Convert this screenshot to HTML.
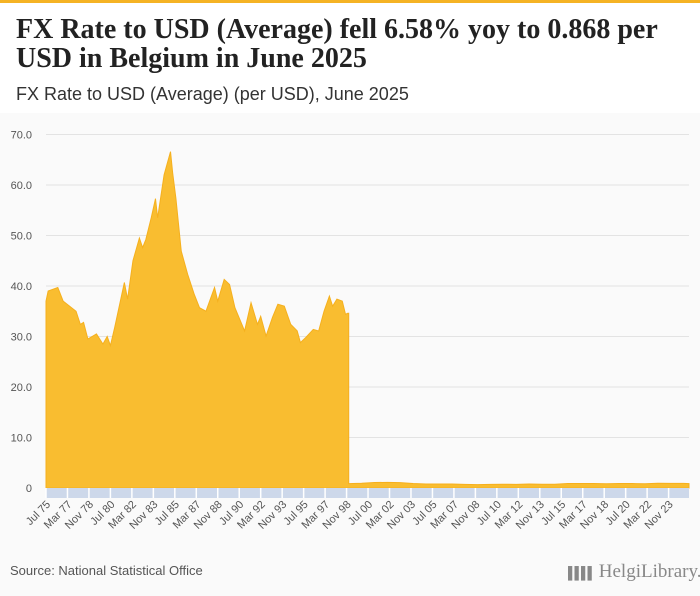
<!DOCTYPE html>
<html><head><meta charset="utf-8"><style>
body{margin:0;width:700px;height:596px;overflow:hidden;font-family:"Liberation Sans",sans-serif;background:#fafafa}
#hdr{position:absolute;left:0;top:0;width:700px;height:113px;background:#fff;border-top:3px solid #f5b324;box-sizing:border-box}
h1{position:absolute;left:16px;top:12px;margin:0;font-family:"Liberation Serif",serif;font-size:28px;line-height:29px;font-weight:bold;color:#222;white-space:nowrap}
#sub{position:absolute;left:16px;top:81px;font-size:18px;color:#333}
#src{position:absolute;left:10px;top:563px;font-size:13px;color:#555}
#logo{position:absolute;left:568px;top:561px;font-family:"Liberation Serif",serif;font-size:19px;color:#888;white-space:nowrap}
</style></head><body>
<div id="hdr">
<h1>FX Rate to USD (Average) fell 6.58% yoy to 0.868 per<br>USD in Belgium in June 2025</h1>
<div id="sub">FX Rate to USD (Average) (per USD), June 2025</div>
</div>
<svg id="chart" width="700" height="596" style="position:absolute;left:0;top:0"></svg>
<div id="src">Source: National Statistical Office</div>
<div id="logo"><span style="font-size:12px;letter-spacing:-2px">▌▌▌▌</span> HelgiLibrary.</div>
<script>
const months=[0,2,11,16,28,32,35,39,47,53,57,60,64,73,76,81,87,90,93,98,102,104,110,116,118,121,126,132,138,143,149,157,160,166,171,176,185,191,197,200,205,211,216,222,228,234,237,242,249,254,259,264,267,271,276,279,281,282,294,306,318,330,342,354,366,378,390,402,414,426,438,450,462,474,486,498,510,522,534,546,558,570,582,594,599];
const values=[37.0,39.0,39.7,37,35,32.4,32.8,29.5,30.5,28.5,30,28.2,31.8,40.7,37.4,45,49.5,47.6,49.2,53.5,57.3,53.5,62,66.6,62.4,57.4,46.9,42.3,38.4,35.7,35,39.7,37,41.3,40.3,35.7,31.1,36.7,32.4,34,30.1,33.8,36.4,36,32.4,31.1,28.8,29.8,31.4,31.1,35,38,36,37.4,37,34.4,34.6,0.86,0.94,1.08,1.12,1.06,0.88,0.80,0.80,0.80,0.73,0.68,0.72,0.75,0.72,0.78,0.75,0.75,0.90,0.90,0.89,0.85,0.89,0.88,0.85,0.95,0.92,0.92,0.868];
const yTicks=[0,10,20,30,40,50,60,70];
const xLabels=["Jul 75","Mar 77","Nov 78","Jul 80","Mar 82","Nov 83","Jul 85","Mar 87","Nov 88","Jul 90","Mar 92","Nov 93","Jul 95","Mar 97","Nov 98","Jul 00","Mar 02","Nov 03","Jul 05","Mar 07","Nov 08","Jul 10","Mar 12","Nov 13","Jul 15","Mar 17","Nov 18","Jul 20","Mar 22","Nov 23"];
const NS="http://www.w3.org/2000/svg",svg=document.getElementById('chart');
const x0=46,x1=689,y0=488;
const xs=m=>x0+(x1-x0)*m/599;
const ys=v=>y0-v*5.05;
function mk(t,a){const e=document.createElementNS(NS,t);for(const k in a)e.setAttribute(k,a[k]);svg.appendChild(e);return e;}
yTicks.forEach(v=>{
 const l=mk('line',{x1:x0,x2:x1,y1:ys(v),y2:ys(v),stroke:'#e3e3e3','stroke-width':1});
 
 
 const t=mk('text',{x:32,y:ys(v)+4,'text-anchor':'end','font-size':11,fill:'#555'});
 t.textContent=v===0?'0':v.toFixed(1);
 
 
});
let d='M'+xs(months[0])+','+y0;
months.forEach((m,i)=>{ if(i===57){d+=' L'+xs(m)+','+ys(values[i-1]);} d+=' L'+xs(m)+','+ys(values[i]); });
d+=' L'+xs(months[months.length-1])+','+y0+' Z';
const area=mk('path',{d:d,fill:'#f9bd30',stroke:'#f5b01e','stroke-width':1});


const band=mk('rect',{x:x0,y:y0,width:x1-x0,height:10,fill:'#cdd8ea'});


xLabels.forEach((s,i)=>{
 const x=xs(i*20);
 const tk=mk('line',{x1:x,x2:x,y1:y0,y2:y0+10,stroke:'#fff','stroke-width':1.5});
 
 
 const t=mk('text',{x:x+5,y:y0+17,'text-anchor':'end','font-size':11,fill:'#555',transform:`rotate(-45 ${x+5} ${y0+17})`});
 t.textContent=s;
 
 
});
</script>
</body></html>
